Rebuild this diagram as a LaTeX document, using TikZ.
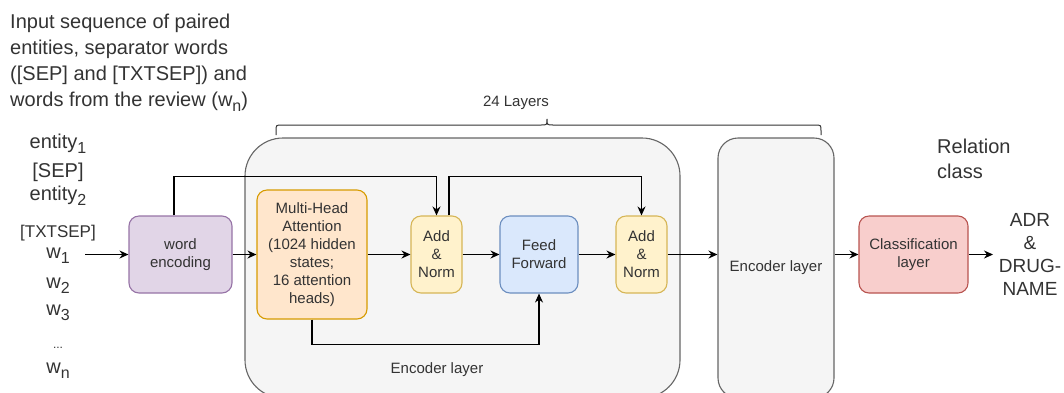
\documentclass[tikz,border=0pt]{standalone}
\usepackage{fontspec}
\setmainfont{Liberation Sans}
\usetikzlibrary{arrows.meta}
\definecolor{txt}{HTML}{333333}
\definecolor{encfill}{HTML}{F5F5F5}
\definecolor{encdraw}{HTML}{666666}
\definecolor{purfill}{HTML}{E1D5E7}
\definecolor{purdraw}{HTML}{9673A6}
\definecolor{orfill}{HTML}{FFE6CC}
\definecolor{ordraw}{HTML}{D79B00}
\definecolor{yelfill}{HTML}{FFF2CC}
\definecolor{yeldraw}{HTML}{D6B656}
\definecolor{blufill}{HTML}{DAE8FC}
\definecolor{bludraw}{HTML}{6C8EBF}
\definecolor{redfill}{HTML}{F8CECC}
\definecolor{reddraw}{HTML}{B85450}
\newcommand{\sbs}[1]{\raisebox{-0.28em}{\fontsize{16}{16}\selectfont #1}}
\begin{document}
\begin{tikzpicture}[x=1pt,y=-1pt,
  box/.style={draw, rounded corners=10pt, line width=1.1pt, align=center, text=txt,
    font=\fontsize{15}{18}\selectfont, inner sep=0pt},
  encbox/.style={draw=encdraw, fill=encfill, line width=1.1pt},
  arr/.style={-{Stealth[length=9pt,width=8pt]}, line width=1.1pt},
  lbl/.style={text=txt, inner sep=0pt},
  big/.style={lbl, font=\fontsize{20}{26}\selectfont},
]
\useasboundingbox (0,0) rectangle (1064,392);

% encoder layer containers
\node[encbox, rounded corners=38pt, minimum width=435pt, minimum height=260pt, inner sep=0pt] (enc1) at (462.5,268) {};
\node[lbl, font=\fontsize{15}{18}\selectfont] (enc1lbl) at (437,370) {Encoder layer};
\node[encbox, rounded corners=20pt, minimum width=116pt, minimum height=260pt, inner sep=0pt,
  text=txt, font=\fontsize{15}{18}\selectfont] (enc2) at (776,268) {Encoder layer};

% brace
\draw[line width=1pt, draw=txt] (276,135) -- (276,131) .. controls (276,125) .. (282,125) -- (541,125)
  .. controls (547,125) .. (547,119) .. controls (547,125) .. (553,125) -- (815,125)
  .. controls (821,125) .. (821,131) -- (821,135);
\node[lbl, font=\fontsize{15}{18}\selectfont] (layers) at (516,103) {24 Layers};

% top-left description
\node[big, anchor=north west, align=left] (desc) at (10,13.5)
  {Input sequence of paired\\entities, separator words\\([SEP] and [TXTSEP]) and\\words from the review (w\sbs{n})};

% input column
\node[big, anchor=base] (e1) at (58,148) {entity\sbs{1}};
\node[big, anchor=base] (sep) at (58,177) {[SEP]};
\node[big, anchor=base] (e2) at (58,200) {entity\sbs{2}};
\node[lbl, font=\fontsize{17}{20}\selectfont, anchor=base] (txtsep) at (58,237) {[TXTSEP]};
\node[big, anchor=base] (w1) at (58,258) {w\sbs{1}};
\node[big, anchor=base] (w2) at (58,288) {w\sbs{2}};
\node[big, anchor=base] (w3) at (58,315) {w\sbs{3}};
\node[lbl, font=\fontsize{12}{14}\selectfont, anchor=base] (dots) at (58,348) {...};
\node[big, anchor=base] (wn) at (58,373) {w\sbs{n}};

% boxes
\node[box, fill=purfill, draw=purdraw, minimum width=103pt, minimum height=77pt] (we) at (180.5,254.5) {word\\encoding};
\node[box, fill=orfill, draw=ordraw, minimum width=110pt, minimum height=129pt] (mha) at (312,254.5)
  {Multi-Head\\Attention\\(1024 hidden\\states;\\16 attention\\heads)};
\node[box, fill=yelfill, draw=yeldraw, minimum width=51pt, minimum height=77pt] (an1) at (436.5,254.5) {Add\\\&\\Norm};
\node[box, fill=blufill, draw=bludraw, minimum width=78pt, minimum height=77pt] (ff) at (539,254.5) {Feed\\Forward};
\node[box, fill=yelfill, draw=yeldraw, minimum width=51pt, minimum height=77pt] (an2) at (641.5,254.5) {Add\\\&\\Norm};
\node[box, fill=redfill, draw=reddraw, minimum width=109pt, minimum height=77pt] (cls) at (913.5,254.5) {Classification\\layer};

% output texts
\node[lbl, font=\fontsize{19}{23}\selectfont, align=center] (out) at (1030,254.5) {ADR\\\&\\DRUG-\\NAME};
\node[big, anchor=north west, align=left, font=\fontsize{20}{25}\selectfont] (rel) at (937,139) {Relation\\class};

% connectors
\coordinate (inp) at (85,254.5);
\coordinate (outp) at (993,254.5);
\draw[arr] (inp) -- (we.west);
\draw[arr] (we.east) -- (mha.west);
\draw[arr] (mha.east) -- (an1.west);
\draw[arr] (an1.east) -- (ff.west);
\draw[arr] (ff.east) -- (an2.west);
\draw[arr] (an2.east) -- (enc2.west |- an2.east);
\draw[arr] (enc2.east |- cls.west) -- (cls.west);
\draw[arr] (cls.east) -- (outp);
\draw[arr] ([xshift=-6.5pt]we.north) -- ++(0,-39) -| (an1.north);
\draw[arr] ([xshift=12.5pt]an1.north) -- ++(0,-39) -| (an2.north);
\draw[arr] (mha.south) -- ++(0,25) -| (ff.south);
\end{tikzpicture}
\end{document}
